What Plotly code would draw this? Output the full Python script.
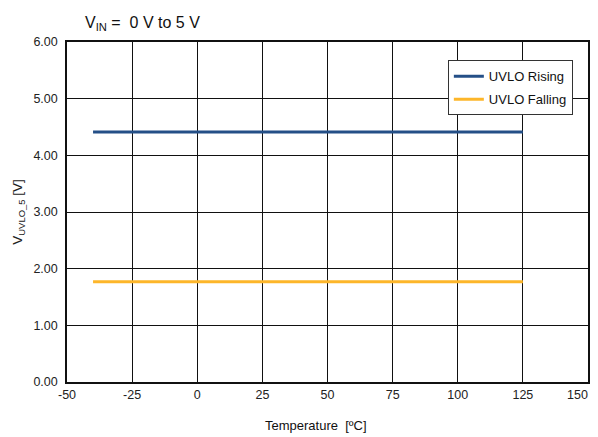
import plotly.graph_objects as go

temperature = [-40, -25, 0, 25, 50, 75, 100, 125]
uvlo_rising = [4.41, 4.41, 4.41, 4.41, 4.41, 4.41, 4.41, 4.41]
uvlo_falling = [1.77, 1.77, 1.77, 1.77, 1.77, 1.77, 1.77, 1.77]
x_ticks = [-50, -25, 0, 25, 50, 75, 100, 125, 150]
x_tick_labels = ["-50", "-25", "0", "25", "50", "75", "100", "125", "150"]
y_ticks = [0, 1, 2, 3, 4, 5, 6]

fig = go.Figure()
fig.add_trace(go.Scatter(x=temperature, y=uvlo_rising, mode="lines", name="UVLO Rising",
                         legendgroup="a", line=dict(color="#244F87", width=3)))
fig.add_trace(go.Scatter(x=temperature, y=uvlo_falling, mode="lines", name="UVLO Falling",
                         legendgroup="b", line=dict(color="#FDB62A", width=3)))

font_family = "Liberation Sans, Arial, sans-serif"
# the last tick label sits flush with the right edge, as in the reference
shown_labels = x_tick_labels[:-1] + [""]

# page body has an 8px margin, so the figure is offset by 8px right/down
fig.update_layout(
    width=590, height=429,
    margin=dict(l=59, r=10, t=34, b=55, autoexpand=False),
    paper_bgcolor="white", plot_bgcolor="white",
    font=dict(family=font_family, size=12.5, color="#222222"),
    showlegend=True,
    legend=dict(x=0.731, y=0.946, xanchor="left", yanchor="top",
                bgcolor="white", bordercolor="#333333", borderwidth=1,
                font=dict(size=13, color="#111111"), tracegroupgap=3),
    xaxis=dict(range=[-50, 150], tickvals=x_ticks, ticktext=shown_labels,
               showgrid=True, gridcolor="#111111", gridwidth=1,
               showline=True, linecolor="#111111", linewidth=1.5, mirror=True,
               zeroline=False, ticks="", tickfont=dict(size=12.5)),
    yaxis=dict(range=[0, 6], tickvals=y_ticks, tickformat=".2f",
               showgrid=True, gridcolor="#111111", gridwidth=1,
               showline=True, linecolor="#111111", linewidth=1.5, mirror=True,
               zeroline=False, ticks="", tickfont=dict(size=12.5), ticklabelstandoff=5,
               title=dict(text="V<sub>UVLO_5</sub> [V]", font=dict(size=13.5), standoff=8)),
)
fig.add_annotation(text=x_tick_labels[-1], xref="x", yref="paper",
                   x=x_ticks[-1], y=0, xanchor="right", yanchor="middle",
                   xshift=2, yshift=-13, showarrow=False,
                   font=dict(size=12.5, color="#222222", family=font_family))
fig.add_annotation(text="Temperature\u00a0\u00a0[ºC]", xref="paper", yref="paper",
                   x=0.478, y=0, xanchor="center", yanchor="middle", yshift=-43,
                   showarrow=False, font=dict(size=13, color="#111111", family=font_family))
fig.add_annotation(text="V<sub>IN</sub> =\u00a0\u00a00 V to 5 V", xref="paper", yref="paper",
                   x=0.03, y=1.0, xanchor="left", yanchor="bottom", yshift=7,
                   showarrow=False, font=dict(size=16, color="#111111", family=font_family))

fig.write_html("out.html")
